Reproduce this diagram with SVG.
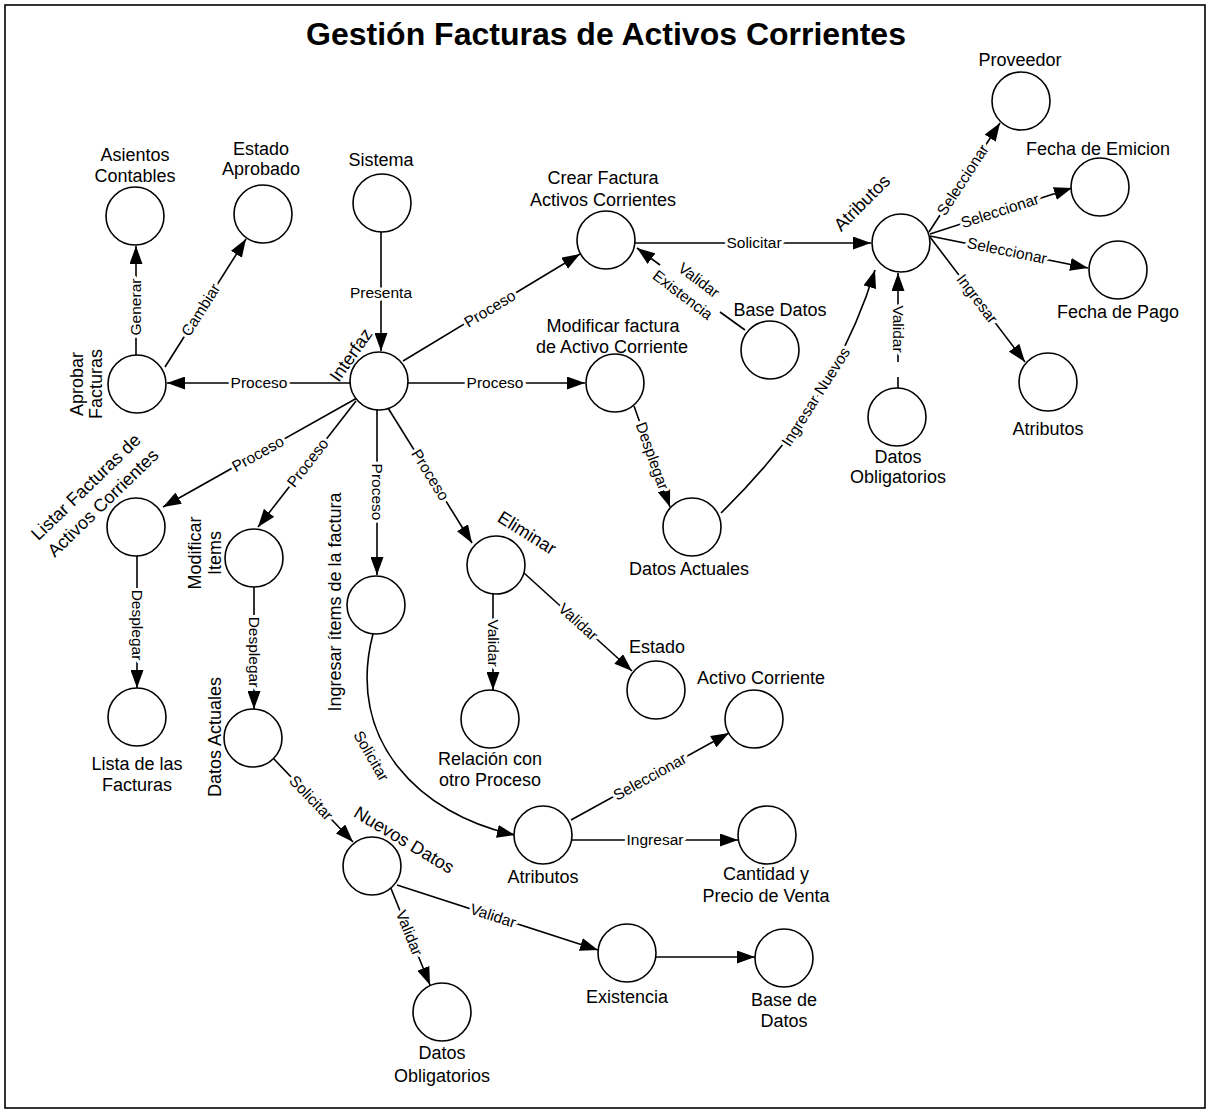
<svg xmlns="http://www.w3.org/2000/svg" width="1210" height="1112" viewBox="0 0 1210 1112">
  <defs>
    <marker id="ah" markerUnits="userSpaceOnUse" markerWidth="18" markerHeight="13" refX="18" refY="6.5" orient="auto">
      <path d="M0,0 L18,6.5 L0,13 z" fill="#000"/>
    </marker>
    <style>
      .frame { fill: #fff; stroke: #000; stroke-width: 1.6; }
      .title { font-family: "Liberation Sans", Arial, sans-serif; font-size: 32px; font-weight: bold; text-anchor: middle; fill: #000; }
      .node circle { fill: #fff; stroke: #000; stroke-width: 1.6; }
      .nl { font-family: "Liberation Sans", Arial, sans-serif; font-size: 18px; text-anchor: middle; fill: #000; }
      .edge { fill: none; stroke: #000; stroke-width: 1.6; }
      .arr { marker-end: url(#ah); }
      .el { font-family: "Liberation Sans", Arial, sans-serif; font-size: 15.5px; text-anchor: middle; fill: #000;
            paint-order: stroke; stroke: #fff; stroke-width: 6px; stroke-linejoin: round; }
    </style>
  </defs>

  <rect class="frame" x="5" y="5" width="1200" height="1103"/>
  <text class="title" x="606" y="45">Gestión Facturas de Activos Corrientes</text>

  <!-- connectors: lines first, their labels on top with a white halo -->
  <g id="connectors">
    <path class="edge arr" d="M136,355 L136,246"/>
    <text class="el" transform="translate(136,307) rotate(-90)" y="5">Generar</text>

    <path class="edge arr" d="M165,367 L246,239"/>
    <text class="el" transform="translate(201,310) rotate(-57.7)" y="5">Cambiar</text>

    <path class="edge arr" d="M381,232 L381,351"/>
    <text class="el" transform="translate(381,293)" y="5">Presenta</text>

    <path class="edge arr" d="M350,383 L167,383"/>
    <text class="el" transform="translate(259,383)" y="5">Proceso</text>

    <path class="edge arr" d="M403,361 L580,254"/>
    <text class="el" transform="translate(490,309) rotate(-31.2)" y="5">Proceso</text>

    <path class="edge arr" d="M408,383 L585,383"/>
    <text class="el" transform="translate(495,383)" y="5">Proceso</text>

    <path class="edge arr" d="M357,398 L163,507"/>
    <text class="el" transform="translate(258,454) rotate(-29.3)" y="5">Proceso</text>

    <path class="edge arr" d="M356,401 L258,527"/>
    <text class="el" transform="translate(308,463) rotate(-52.1)" y="5">Proceso</text>

    <path class="edge arr" d="M377,410 L377,575"/>
    <text class="el" transform="translate(377,492) rotate(90)" y="5">Proceso</text>

    <path class="edge arr" d="M388,408 L472,543"/>
    <text class="el" transform="translate(430,475) rotate(58.1)" y="5">Proceso</text>

    <path class="edge arr" d="M634,243 L871,243"/>
    <text class="el" transform="translate(754,243)" y="5">Solicitar</text>

    <path class="edge" d="M745,330 L720,312"/>
    <path class="edge arr" d="M660,265 L637,248"/>
    <text class="el" transform="translate(691,289) rotate(37.2)"><tspan x="1" y="-6.5">Validar</tspan><tspan x="-3" y="15">Existencia</tspan></text>

    <path class="edge arr" d="M634,406 L670,507"/>
    <text class="el" transform="translate(652,456) rotate(70.4)" y="5">Desplegar</text>

    <path class="edge arr" d="M721,513 Q835,402 875,270"/>
    <text class="el" transform="translate(816,397) rotate(-57.6)" y="5">Ingresar Nuevos</text>

    <path class="edge arr" d="M898,362 L898,273"/>
    <path class="edge" d="M898,377 L898,388"/>
    <text class="el" transform="translate(898,329) rotate(90)" y="5">Validar</text>

    <path class="edge arr" d="M929,232 L1000,123"/>
    <text class="el" transform="translate(963,180) rotate(-56.9)" y="5">Seleccionar</text>

    <path class="edge arr" d="M930,234 L1072,188"/>
    <text class="el" transform="translate(1000,211) rotate(-17.9)" y="5">Seleccionar</text>

    <path class="edge arr" d="M930,236 L1088,268"/>
    <text class="el" transform="translate(1007,251) rotate(11.5)" y="5">Seleccionar</text>

    <path class="edge arr" d="M930,237 L1025,362"/>
    <text class="el" transform="translate(977,299) rotate(52.8)" y="5">Ingresar</text>

    <path class="edge arr" d="M137,556 L137,688"/>
    <text class="el" transform="translate(137,625) rotate(90)" y="5">Desplegar</text>

    <path class="edge arr" d="M254,587 L254,709"/>
    <text class="el" transform="translate(254,652) rotate(90)" y="5">Desplegar</text>

    <path class="edge arr" d="M273,758 L353,842"/>
    <text class="el" transform="translate(311,798) rotate(46.4)" y="5">Solicitar</text>

    <path class="edge arr" d="M373,634 C345,740 420,815 515,835"/>
    <text class="el" transform="translate(371,756) rotate(60)" y="5">Solicitar</text>

    <path class="edge arr" d="M493,594 L493,690"/>
    <text class="el" transform="translate(493,643) rotate(90)" y="5">Validar</text>

    <path class="edge arr" d="M524,573 L632,671"/>
    <text class="el" transform="translate(578,622) rotate(42.2)" y="5">Validar</text>

    <path class="edge arr" d="M571,820 L729,733"/>
    <text class="el" transform="translate(650,777) rotate(-28.8)" y="5">Seleccionar</text>

    <path class="edge arr" d="M572,840 L738,840"/>
    <text class="el" transform="translate(655,840)" y="5">Ingresar</text>

    <path class="edge arr" d="M390,886 L430,985"/>
    <text class="el" transform="translate(409,933) rotate(68)" y="5">Validar</text>

    <path class="edge arr" d="M397,885 L598,950"/>
    <text class="el" transform="translate(493,916) rotate(17.9)" y="5">Validar</text>

    <path class="edge arr" d="M656,957 L755,957"/>
  </g>

  <!-- nodes -->
  <g id="asientos-contables" class="node">
    <circle cx="135" cy="216" r="29"/>
    <text class="nl" x="135" y="161">Asientos</text>
    <text class="nl" x="135" y="182">Contables</text>
  </g>
  <g id="estado-aprobado" class="node">
    <circle cx="263" cy="214" r="29"/>
    <text class="nl" x="261" y="155">Estado</text>
    <text class="nl" x="261" y="175">Aprobado</text>
  </g>
  <g id="sistema" class="node">
    <circle cx="382" cy="203" r="29"/>
    <text class="nl" x="381" y="166">Sistema</text>
  </g>
  <g id="aprobar-facturas" class="node">
    <circle cx="137" cy="384" r="29"/>
    <text class="nl" transform="translate(77,384) rotate(-90)" y="6">Aprobar</text>
    <text class="nl" transform="translate(96,384) rotate(-90)" y="6">Facturas</text>
  </g>
  <g id="interfaz" class="node">
    <circle cx="379" cy="381" r="29"/>
    <text class="nl" transform="translate(351,355) rotate(-55)" y="6">Interfaz</text>
  </g>
  <g id="crear-factura" class="node">
    <circle cx="606" cy="240" r="29"/>
    <text class="nl" x="603" y="184">Crear Factura</text>
    <text class="nl" x="603" y="206">Activos Corrientes</text>
  </g>
  <g id="base-datos-crear" class="node">
    <circle cx="770" cy="350" r="29"/>
    <text class="nl" x="780" y="316">Base Datos</text>
  </g>
  <g id="atributos-factura" class="node">
    <circle cx="901" cy="243" r="29"/>
    <text class="nl" transform="translate(862,203) rotate(-45)" y="6">Atributos</text>
  </g>
  <g id="proveedor" class="node">
    <circle cx="1021" cy="101" r="29"/>
    <text class="nl" x="1020" y="66">Proveedor</text>
  </g>
  <g id="fecha-emicion" class="node">
    <circle cx="1100" cy="187" r="29"/>
    <text class="nl" x="1098" y="155">Fecha de Emicion</text>
  </g>
  <g id="fecha-pago" class="node">
    <circle cx="1118" cy="270" r="29"/>
    <text class="nl" x="1118" y="318">Fecha de Pago</text>
  </g>
  <g id="atributos-ingreso" class="node">
    <circle cx="1048" cy="382" r="29"/>
    <text class="nl" x="1048" y="435">Atributos</text>
  </g>
  <g id="datos-obligatorios-factura" class="node">
    <circle cx="897" cy="417" r="29"/>
    <text class="nl" x="898" y="463">Datos</text>
    <text class="nl" x="898" y="483">Obligatorios</text>
  </g>
  <g id="modificar-factura" class="node">
    <circle cx="615" cy="383" r="29"/>
    <text class="nl" x="613" y="332">Modificar factura</text>
    <text class="nl" x="612" y="353">de Activo Corriente</text>
  </g>
  <g id="datos-actuales-factura" class="node">
    <circle cx="692" cy="527" r="29"/>
    <text class="nl" x="689" y="575">Datos Actuales</text>
  </g>
  <g id="listar-facturas" class="node">
    <circle cx="136" cy="527" r="29"/>
    <text class="nl" transform="translate(86,487) rotate(-44)" y="6">Listar Facturas de</text>
    <text class="nl" transform="translate(103,503) rotate(-44)" y="6">Activos Corrientes</text>
  </g>
  <g id="lista-facturas" class="node">
    <circle cx="137" cy="717" r="29"/>
    <text class="nl" x="137" y="770">Lista de las</text>
    <text class="nl" x="137" y="791">Facturas</text>
  </g>
  <g id="modificar-items" class="node">
    <circle cx="254" cy="558" r="29"/>
    <text class="nl" transform="translate(195,553) rotate(-90)" y="6">Modificar</text>
    <text class="nl" transform="translate(215,553) rotate(-90)" y="6">Items</text>
  </g>
  <g id="datos-actuales-items" class="node">
    <circle cx="253" cy="738" r="29"/>
    <text class="nl" transform="translate(215,737) rotate(-90)" y="6">Datos Actuales</text>
  </g>
  <g id="ingresar-items" class="node">
    <circle cx="376" cy="605" r="29"/>
    <text class="nl" transform="translate(335,602) rotate(-90)" y="6">Ingresar ítems de la factura</text>
  </g>
  <g id="eliminar" class="node">
    <circle cx="496" cy="565" r="29"/>
    <text class="nl" transform="translate(527,533) rotate(32)" y="6">Eliminar</text>
  </g>
  <g id="relacion-proceso" class="node">
    <circle cx="490" cy="719" r="29"/>
    <text class="nl" x="490" y="765">Relación con</text>
    <text class="nl" x="490" y="786">otro Proceso</text>
  </g>
  <g id="estado" class="node">
    <circle cx="656" cy="690" r="29"/>
    <text class="nl" x="657" y="653">Estado</text>
  </g>
  <g id="activo-corriente" class="node">
    <circle cx="754" cy="719" r="29"/>
    <text class="nl" x="761" y="684">Activo Corriente</text>
  </g>
  <g id="atributos-items" class="node">
    <circle cx="543" cy="835" r="29"/>
    <text class="nl" x="543" y="883">Atributos</text>
  </g>
  <g id="cantidad-precio" class="node">
    <circle cx="767" cy="835" r="29"/>
    <text class="nl" x="766" y="880">Cantidad y</text>
    <text class="nl" x="766" y="902">Precio de Venta</text>
  </g>
  <g id="nuevos-datos" class="node">
    <circle cx="372" cy="866" r="29"/>
    <text class="nl" transform="translate(404,840) rotate(31)" y="6">Nuevos Datos</text>
  </g>
  <g id="datos-obligatorios-items" class="node">
    <circle cx="442" cy="1012" r="29"/>
    <text class="nl" x="442" y="1059">Datos</text>
    <text class="nl" x="442" y="1082">Obligatorios</text>
  </g>
  <g id="existencia" class="node">
    <circle cx="627" cy="953" r="29"/>
    <text class="nl" x="627" y="1003">Existencia</text>
  </g>
  <g id="base-de-datos" class="node">
    <circle cx="784" cy="958" r="29"/>
    <text class="nl" x="784" y="1006">Base de</text>
    <text class="nl" x="784" y="1027">Datos</text>
  </g>
</svg>
